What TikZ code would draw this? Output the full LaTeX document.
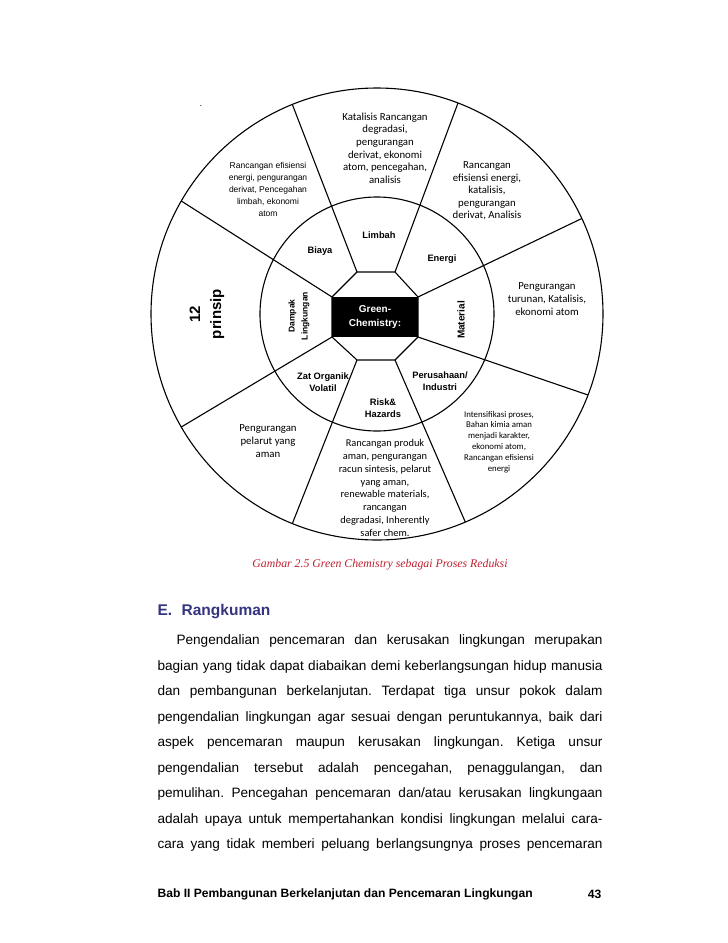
\documentclass[tikz,border=0pt]{standalone}
\usepackage{fontspec}
\setmainfont{Carlito}
\newfontfamily\arialfont{Liberation Sans}
\newfontfamily\timesfont{Liberation Serif}
\usetikzlibrary{calc}
\definecolor{capred}{RGB}{192,32,48}
\definecolor{headblue}{RGB}{52,52,128}
\frenchspacing

\begin{document}
\begin{tikzpicture}[x=1pt, y=-1pt, line width=1.1pt,
    wtext/.style={align=center, inner sep=0pt, font=\fontsize{10.8}{12.6}\selectfont},
    wlabel/.style={align=center, inner sep=0pt, font=\arialfont\bfseries\fontsize{9.3}{11.6}\selectfont},
    pline/.style={anchor=west, inner sep=0pt, font=\arialfont\fontsize{13.6}{16}\selectfont}]
    \path[use as bounding box, fill=white] (0,0) rectangle (728,943);

    \coordinate (M) at (377,314);
    \coordinate (O1) at (357,272);
    \coordinate (O2) at (395,272);
    \coordinate (O3) at (418,297);
    \coordinate (O4) at (418,337);
    \coordinate (O5) at (395,360);
    \coordinate (O6) at (357,360);
    \coordinate (O7) at (332,337);
    \coordinate (O8) at (332,297);
    \coordinate (P1) at ($(M)+(-112:226)$);
    \coordinate (P2) at ($(M)+(-69:226)$);
    \coordinate (P3) at ($(M)+(-25:226)$);
    \coordinate (P4) at ($(M)+(21:226)$);
    \coordinate (P5) at ($(M)+(67:226)$);
    \coordinate (P6) at ($(M)+(112:226)$);
    \coordinate (P7) at ($(M)+(150:226)$);
    \coordinate (P8) at ($(M)+(210:226)$);

    % Circles
    \draw (M) circle (226);
    \draw (M) circle (117);

    % Spokes
    \draw (O1) -- (P1);
    \draw (O2) -- (P2);
    \draw (O3) -- (P3);
    \draw (O4) -- (P4);
    \draw (O5) -- (P5);
    \draw (O6) -- (P6);
    \draw (O7) -- (P7);
    \draw (O8) -- (P8);

    % Centre
    \draw[fill=white] (O1) -- (O2) -- (O3) -- (O4) -- (O5) -- (O6) -- (O7) -- (O8) -- cycle;
    \node[fill=black, text=white, minimum width=86, minimum height=40, inner sep=0pt,
          align=center, font=\arialfont\bfseries\fontsize{10}{14}\selectfont] (green) at (375,317) {Green-\\Chemistry:};

    % Inner ring
    \node[wlabel] (limbah) at (379,235) {Limbah};
    \node[wlabel] (biaya) at (320,251) {Biaya};
    \node[wlabel] (energi) at (442,259) {Energi};
    \node[wlabel, rotate=90, font=\arialfont\bfseries\fontsize{10}{12}\selectfont] (material) at (461,320) {Material};
    \node[wlabel, rotate=90, font=\arialfont\bfseries\fontsize{8.5}{13}\selectfont] (dampak) at (299,316) {Dampak\\Lingkungan};
    \node[wlabel] (zat) at (323,382) {Zat Organik\\Volatil};
    \node[wlabel] (perusahaan) at (440,381) {Perusahaan/\\Industri};
    \node[wlabel] (risk) at (383,408) {Risk\&\\Hazards};

    % Outer ring
    \node[inner sep=0pt, font=\fontsize{9}{10}\selectfont] (dot) at (201,106) {.};
    \node[wtext] (katalisis) at (385,148) {Katalisis Rancangan\\degradasi,\\pengurangan\\derivat, ekonomi\\atom, pencegahan,\\analisis};
    \node[wtext, font=\arialfont\fontsize{8.5}{12}\selectfont] (efisiensi) at (268,189) {Rancangan efisiensi\\energi, pengurangan\\derivat, Pencegahan\\limbah, ekonomi\\atom};
    \node[wtext] (analisis) at (487,191) {Rancangan\\efisiensi energi,\\katalisis,\\pengurangan\\derivat, Analisis};
    \node[wtext] (turunan) at (547,299) {Pengurangan\\turunan, Katalisis,\\ekonomi atom};
    \node[wtext, rotate=90, font=\arialfont\bfseries\fontsize{15}{21}\selectfont] (prinsip) at (207,314) {12\\prinsip};
    \node[wtext] (pelarut) at (268,441) {Pengurangan\\pelarut yang\\aman};
    \node[wtext, font=\fontsize{10.4}{12.8}\selectfont] (produk) at (385,488) {Rancangan produk\\aman, pengurangan\\racun sintesis, pelarut\\yang aman,\\renewable materials,\\rancangan\\degradasi, Inherently\\safer chem.};
    \node[wtext, font=\fontsize{8.8}{10.9}\selectfont] (proses) at (499,442) {Intensifikasi proses,\\Bahan kimia aman\\menjadi karakter,\\ekonomi atom,\\Rancangan efisiensi\\energi};

    % Caption and text
    \node[inner sep=0pt, text=capred, font=\timesfont\itshape\fontsize{11.8}{14}\selectfont] (caption) at (380,565) {Gambar 2.5 Green Chemistry sebagai Proses Reduksi};
    \node[anchor=west, inner sep=0pt, text=headblue, font=\arialfont\bfseries\fontsize{15.5}{18}\selectfont] (heading) at (157,612) {E.\hspace{9.5pt}Rangkuman};
    \node[pline] (line1) at (176,641) {\makebox[426pt][s]{Pengendalian pencemaran dan kerusakan lingkungan merupakan}};
    \node[pline] (line2) at (157,666.5) {\makebox[445pt][s]{bagian yang tidak dapat diabaikan demi keberlangsungan hidup manusia}};
    \node[pline] (line3) at (157,692) {\makebox[445pt][s]{dan pembangunan berkelanjutan. Terdapat tiga unsur pokok dalam}};
    \node[pline] (line4) at (157,717.5) {\makebox[445pt][s]{pengendalian lingkungan agar sesuai dengan peruntukannya, baik dari}};
    \node[pline] (line5) at (157,743) {\makebox[445pt][s]{aspek pencemaran maupun kerusakan lingkungan. Ketiga unsur}};
    \node[pline] (line6) at (157,768.5) {\makebox[445pt][s]{pengendalian tersebut adalah pencegahan, penaggulangan, dan}};
    \node[pline] (line7) at (157,794) {\makebox[445pt][s]{pemulihan. Pencegahan pencemaran dan/atau kerusakan lingkungaan}};
    \node[pline] (line8) at (157,819.5) {\makebox[445pt][s]{adalah upaya untuk mempertahankan kondisi lingkungan melalui cara-}};
    \node[pline] (line9) at (157,845) {\makebox[445pt][s]{cara yang tidak memberi peluang berlangsungnya proses pencemaran}};

    % Footer
    \node[anchor=west, inner sep=0pt, font=\arialfont\bfseries\fontsize{12.1}{14}\selectfont] (footer) at (157,894) {Bab II Pembangunan Berkelanjutan dan Pencemaran Lingkungan};
    \node[anchor=east, inner sep=0pt, font=\arialfont\bfseries\fontsize{12.1}{14}\selectfont] (pagenum) at (602,894) {43};
\end{tikzpicture}
\end{document}
